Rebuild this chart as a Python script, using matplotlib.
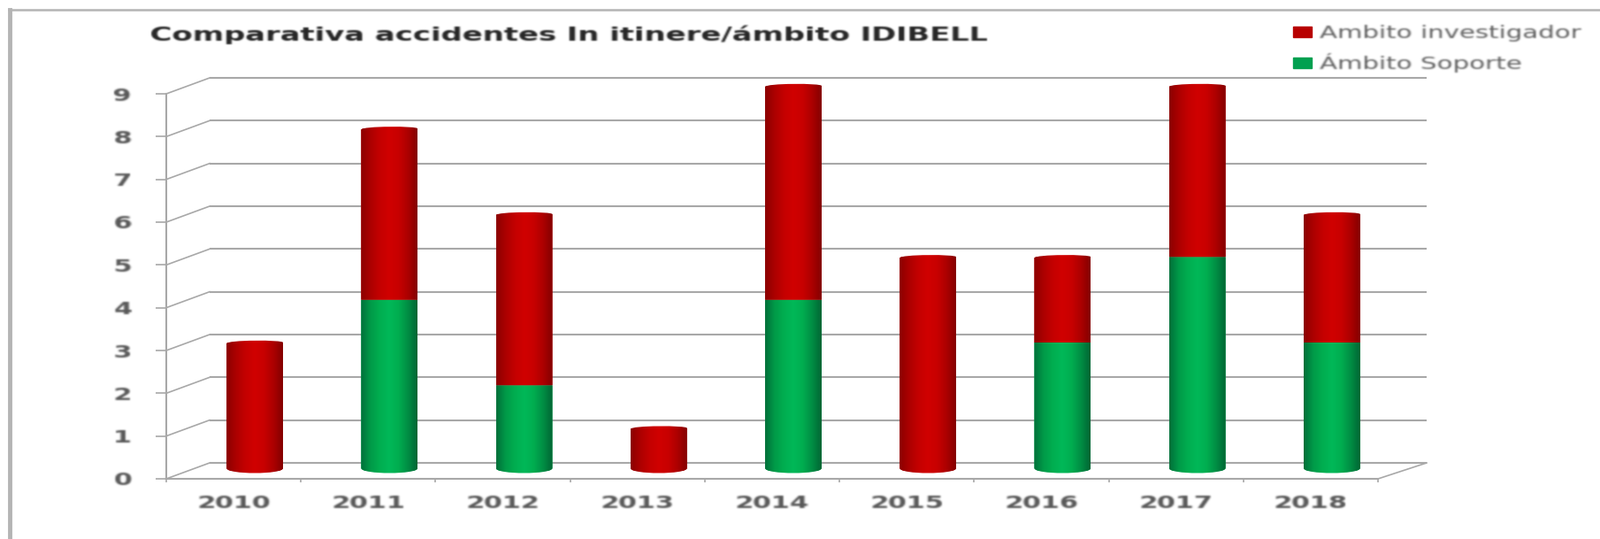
import numpy as np
import matplotlib
matplotlib.use("Agg")
import matplotlib.pyplot as plt
from matplotlib.colors import LinearSegmentedColormap
from matplotlib.lines import Line2D
from matplotlib.patches import Patch, PathPatch
from matplotlib.path import Path
from matplotlib.transforms import Affine2D

years = ["2010", "2011", "2012", "2013", "2014", "2015", "2016", "2017", "2018"]
soporte = [0, 4, 2, 0, 4, 0, 3, 5, 3]
investigador = [3, 4, 4, 1, 5, 5, 2, 4, 3]
title = "Comparativa accidentes In itinere/ámbito IDIBELL"
label_inv = "Ambito investigador"
label_sop = "Ámbito Soporte"

W, H = 1809, 609
fig = plt.figure(figsize=(W / 100, H / 100), dpi=100, facecolor="white")
L, R, B, T = 188, 1558, 541, 106
ax = fig.add_axes([L / W, 1 - B / H, (R - L) / W, (B - T) / H])
ax.set_facecolor("none")

GRID = "#a8a8a8"
TXT = "#585858"
back = ax.transData + Affine2D().translate(49, 18)
mid = ax.transData + Affine2D().translate(24, 9)


def wide_text(factor, anchor="left", blur=0.9):
    """Agg filter: widen a rendered text horizontally and soften it like the source image."""
    radius = 3
    k = np.exp(-0.5 * (np.arange(-radius, radius + 1) / blur) ** 2)
    k /= k.sum()

    def flt(img, dpi):
        h, w, _ = img.shape
        nw = int(round(w * factor))
        xs = np.clip((np.arange(nw) + 0.5) / factor - 0.5, 0, w - 1)
        i0 = np.floor(xs).astype(int)
        i1 = np.minimum(i0 + 1, w - 1)
        fr = (xs - i0)[None, :, None]
        pm = img.copy()
        pm[..., :3] *= pm[..., 3:4]
        st = pm[:, i0] * (1 - fr) + pm[:, i1] * fr
        st = np.pad(st, ((radius, radius), (radius, radius), (0, 0)))
        st = np.apply_along_axis(lambda a: np.convolve(a, k, mode="same"), 1, st)
        st = np.apply_along_axis(lambda a: np.convolve(a, k, mode="same"), 0, st)
        a = np.maximum(st[..., 3:4], 1e-4)
        st[..., :3] = np.clip(st[..., :3] / a, 0, 1)
        st = np.clip(st, 0, 1)
        ox = -radius if anchor == "left" else -radius - (nw - w) // 2
        return st, ox, -radius

    return flt


levels = np.arange(0, 10)
ax.hlines(levels, 0, 9.04, transform=back, color=GRID, lw=1.5, zorder=1, clip_on=False)
for v in levels:
    ax.plot([0, 49 / ((R - L) / 9)], [v, v + 18 / ((B - T) / 9)], color=GRID, lw=1.2, zorder=1, clip_on=False)
ax.plot([9, 9 + 55 / ((R - L) / 9)], [0, 18 / ((B - T) / 9)], color=GRID, lw=1.2, zorder=1, clip_on=False)

red_cmap = LinearSegmentedColormap.from_list("r", ["#8c0000", "#ac0000", "#c40000", "#d00000", "#c80000", "#ac0000", "#840000"])
green_cmap = LinearSegmentedColormap.from_list("g", ["#00703a", "#009a48", "#00ae50", "#00b858", "#00ae50", "#008e44", "#006634"])
grad = np.linspace(0, 1, 128).reshape(1, -1)

x = np.arange(len(years)) + 0.5
w = 0.42
c = 0.065


def shape(xc, y0, y1, round_bottom, round_top):
    l, r = xc - w / 2, xc + w / 2
    verts, codes = [], []
    if round_bottom:
        verts += [(l, y0 + c), (l, y0 - c * 1.4), (r, y0 - c * 1.4), (r, y0 + c)]
        codes += [Path.MOVETO, Path.CURVE4, Path.CURVE4, Path.CURVE4]
    else:
        verts += [(l, y0), (r, y0)]
        codes += [Path.MOVETO, Path.LINETO]
    if round_top:
        verts += [(r, y1), (r, y1 + c), (l, y1 + c), (l, y1 - c * .4), (l, y1 - c * .4)]
        codes += [Path.LINETO, Path.CURVE4, Path.CURVE4, Path.CURVE4, Path.CLOSEPOLY]
    else:
        verts += [(r, y1), (l, y1), (l, y0)]
        codes += [Path.LINETO, Path.LINETO, Path.CLOSEPOLY]
    return Path(verts, codes)


def draw(values, bottoms, cmap, base, top_flags):
    bars = ax.bar(x, values, w, bottom=bottoms, color=base, transform=mid, zorder=2, linewidth=0)
    for rect, val, bot, is_top in zip(bars, values, bottoms, top_flags):
        if val == 0:
            continue
        xc = rect.get_x() + w / 2
        clip = PathPatch(shape(xc, bot, bot + val, bot == 0, is_top), transform=mid, fc="none", ec="none", clip_on=False)
        ax.add_patch(clip)
        rect.set_clip_path(clip)
        rect.set_clip_box(fig.bbox)
        im = ax.imshow(grad, cmap=cmap, extent=(xc - w / 2, xc + w / 2, bot - 0.1, bot + val + 0.1),
                       aspect="auto", zorder=3, interpolation="bilinear")
        im.set_transform(mid)
        im.set_clip_path(clip)
        im.set_clip_box(fig.bbox)


draw(soporte, [0] * 9, green_cmap, "#00b050", [False] * 9)
draw(investigador, soporte, red_cmap, "#c00000", [True] * 9)

ax.set_xlim(0, 9)
ax.set_ylim(0, 9)
for s in ("top", "right"):
    ax.spines[s].set_visible(False)
for s in ("left", "bottom"):
    ax.spines[s].set_color(GRID)
    ax.spines[s].set_linewidth(1.5)
ax.set_yticks(levels)
ax.set_xticks(np.arange(0, 10))
ax.set_xticklabels([])
ax.set_xticks(x, minor=True)
ax.set_xticklabels(years, minor=True)
ax.tick_params(axis="x", which="major", length=3, width=1.2, color=GRID)
ax.tick_params(axis="x", which="minor", length=0, pad=13, labelsize=14, labelcolor=TXT)
ax.tick_params(axis="y", length=9, width=1.2, color=GRID, pad=22, labelsize=14, labelcolor=TXT)
for t in ax.get_xticklabels(minor=True) + ax.get_yticklabels():
    t.set_fontweight("bold")
    t.set_fontfamily("DejaVu Sans")
    t.set_agg_filter(wide_text(1.55, "center"))

ttl = fig.text(170 / W, 1 - 39 / H, title, fontsize=16, fontweight="bold", color="#262626",
               family="DejaVu Sans", va="center", ha="left")
ttl.set_agg_filter(wide_text(1.52, "left", blur=0.8))

handles = [Patch(color="#b80000", label=label_inv), Patch(color="#00a050", label=label_sop)]
leg = fig.legend(handles=handles, loc="upper left", bbox_to_anchor=(1462 / W, 1 - 28 / H), frameon=False,
                 fontsize=14, labelcolor="#606060", handlelength=1.08, handleheight=0.55, handletextpad=0.46,
                 labelspacing=0.65, borderpad=0, borderaxespad=0)
for t in leg.get_texts():
    t.set_agg_filter(wide_text(1.5, "left"))

FRAME = "#b4b4b4"
fig.add_artist(Line2D([11 / W, 11 / W], [0, 1 - 11 / H], color=FRAME, lw=3.5))
fig.add_artist(Line2D([10 / W, 1], [1 - 11 / H, 1 - 11 / H], color=FRAME, lw=1.8))

fig.savefig("out.png", dpi=100, facecolor="white")
